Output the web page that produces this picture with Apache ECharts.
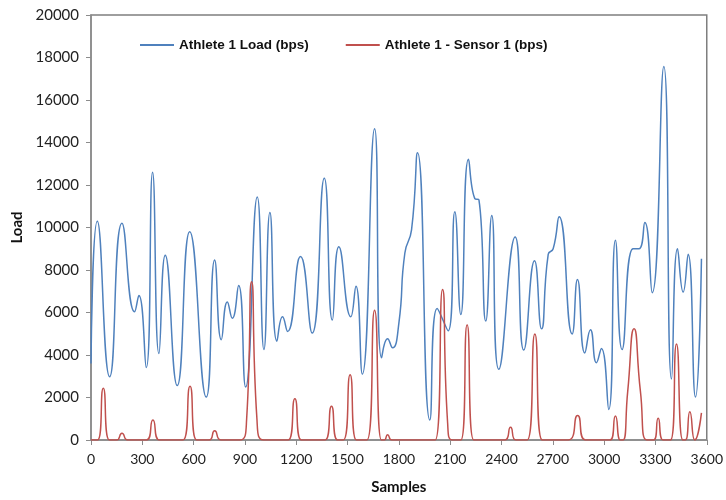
<!DOCTYPE html>
<html>
<head>
<meta charset="utf-8">
<script src="https://cdn.jsdelivr.net/npm/echarts@6/dist/echarts.min.js"></script>
<style>
  html, body { margin: 0; padding: 0; background: #fff; }
  #chart { width: 726px; height: 500px; }
</style>
</head>
<body>
<div id="chart"></div>
<script>
// blue series: athlete load
const loadSamples = [0, 37, 109, 181, 255, 280, 323, 360, 397, 434, 504, 577, 674, 723, 762, 797, 826, 863, 904,
  972, 1011, 1046, 1087, 1120, 1149, 1225, 1293, 1364, 1411, 1449, 1519, 1549, 1586, 1658, 1699, 1734, 1763,
  1800, 1835, 1874, 1909, 1981, 2024, 2088, 2127, 2162, 2207, 2244, 2268, 2308, 2343, 2384, 2480, 2530, 2593,
  2634, 2673, 2702, 2737, 2813, 2844, 2887, 2920, 2955, 2984, 3027, 3066, 3105, 3169, 3203, 3238, 3281, 3349,
  3394, 3429, 3462, 3491, 3534, 3569];
const loadValues = [3600, 10300, 2980, 10200, 6030, 6800, 3410, 12600, 4070, 8700, 2560, 9800, 2020, 8470, 4720, 6500, 5730, 7270, 2490,
  11440, 4260, 10710, 4650, 5800, 5110, 8630, 5030, 12320, 5650, 9090, 5800, 7240, 3100, 14650, 3870, 4770, 4340,
  5500, 8800, 9890, 13520, 940, 6190, 5140, 10740, 5910, 13210, 11360, 11300, 5600, 10560, 3330, 9550, 4230, 8430,
  5230, 8740, 9000, 10510, 4990, 7550, 4100, 5190, 3640, 4310, 1440, 9400, 4260, 9000, 9000, 10230, 6930, 17580,
  2870, 9000, 6960, 8740, 2020, 8530];

// red series: sensor 1
const sensorSamples = [0, 38, 72, 108, 150, 181, 215, 325, 362, 400, 538, 579, 618, 690, 723, 760, 870, 910, 939, 970, 1010,
  1153, 1192, 1230, 1368, 1406, 1442, 1475, 1515, 1552, 1613, 1658, 1698, 1715, 1734, 1760, 2012, 2055, 2085, 2112,
  2162, 2199, 2238, 2420, 2453, 2485, 2550, 2595, 2638, 2790, 2845, 2890, 3035, 3066, 3095, 3110, 3138, 3175, 3212,
  3250, 3290, 3316, 3345, 3388, 3423, 3460, 3475, 3501, 3530, 3569];
const sensorValues = [0, 0, 2440, 0, 0, 320, 0, 0, 940, 0, 0, 2530, 0, 0, 430, 0, 0, 1000, 7450, 1000, 0,
  0, 1940, 0, 0, 1590, 0, 0, 3070, 0, 0, 6110, 0, 0, 250, 0, 0, 7080, 800, 0,
  0, 5420, 0, 0, 600, 0, 0, 4990, 0, 0, 1150, 0, 0, 1130, 0, 0, 2300, 5230, 2300,
  0, 0, 1020, 0, 0, 4520, 0, 0, 1330, 0, 1280];

const yTicks = { min: 0, max: 20000, step: 2000 };
const xTicks = { min: 0, max: 3600, step: 300 };

const zip = (xs, ys) => xs.map((x, i) => [x, ys[i]]);

const chart = echarts.init(document.getElementById('chart'));
const option = {
  animation: false,
  backgroundColor: '#fff',
  grid: {
    left: 91, right: 18, top: 15, bottom: 53,
    show: true, borderColor: '#7f7f7f', borderWidth: 1.5
  },
  legend: {
    left: 135, top: 33,
    itemGap: 37, itemWidth: 34, itemHeight: 2,
    icon: 'rect',
    textStyle: { fontFamily: 'Liberation Sans', fontWeight: 'bold', fontSize: 13.5, color: '#111' },
    data: ['Athlete 1 Load (bps)', 'Athlete 1 - Sensor 1 (bps)']
  },
  xAxis: {
    type: 'value', min: xTicks.min, max: xTicks.max, interval: xTicks.step,
    name: 'Samples', nameLocation: 'middle', nameGap: 40,
    nameTextStyle: { fontFamily: 'Lato', fontWeight: 'bold', fontSize: 15, color: '#111' },
    axisLine: { lineStyle: { color: '#8c8c8c', width: 1.5 } },
    axisTick: { show: true, length: 5, lineStyle: { color: '#8c8c8c' } },
    axisLabel: { fontFamily: 'Lato', fontSize: 14, color: '#222', margin: 12, formatter: v => String(v) },
    splitLine: { show: false }
  },
  yAxis: {
    type: 'value', min: yTicks.min, max: yTicks.max, interval: yTicks.step,
    name: 'Load', nameLocation: 'middle', nameRotate: 90, nameGap: 66,
    nameTextStyle: { fontFamily: 'Lato', fontWeight: 'bold', fontSize: 15, color: '#111' },
    axisLine: { show: true, lineStyle: { color: '#8c8c8c', width: 1.5 } },
    axisTick: { show: true, length: 5, lineStyle: { color: '#8c8c8c' } },
    axisLabel: { fontFamily: 'Lato', fontSize: 15, color: '#222', margin: 12, formatter: v => String(v) },
    splitLine: { show: false }
  },
  series: [
    {
      name: 'Athlete 1 Load (bps)', type: 'line', smooth: 0.55,
      showSymbol: false, symbol: 'none',
      itemStyle: { color: '#4f81bd' },
      lineStyle: { color: '#4f81bd', width: 1.5 },
      data: zip(loadSamples, loadValues)
    },
    {
      name: 'Athlete 1 - Sensor 1 (bps)', type: 'line', smooth: 0.6,
      showSymbol: false, symbol: 'none',
      itemStyle: { color: '#c0504d' },
      lineStyle: { color: '#c0504d', width: 1.5 },
      data: zip(sensorSamples, sensorValues)
    }
  ]
};
chart.setOption(option);
</script>
</body>
</html>
